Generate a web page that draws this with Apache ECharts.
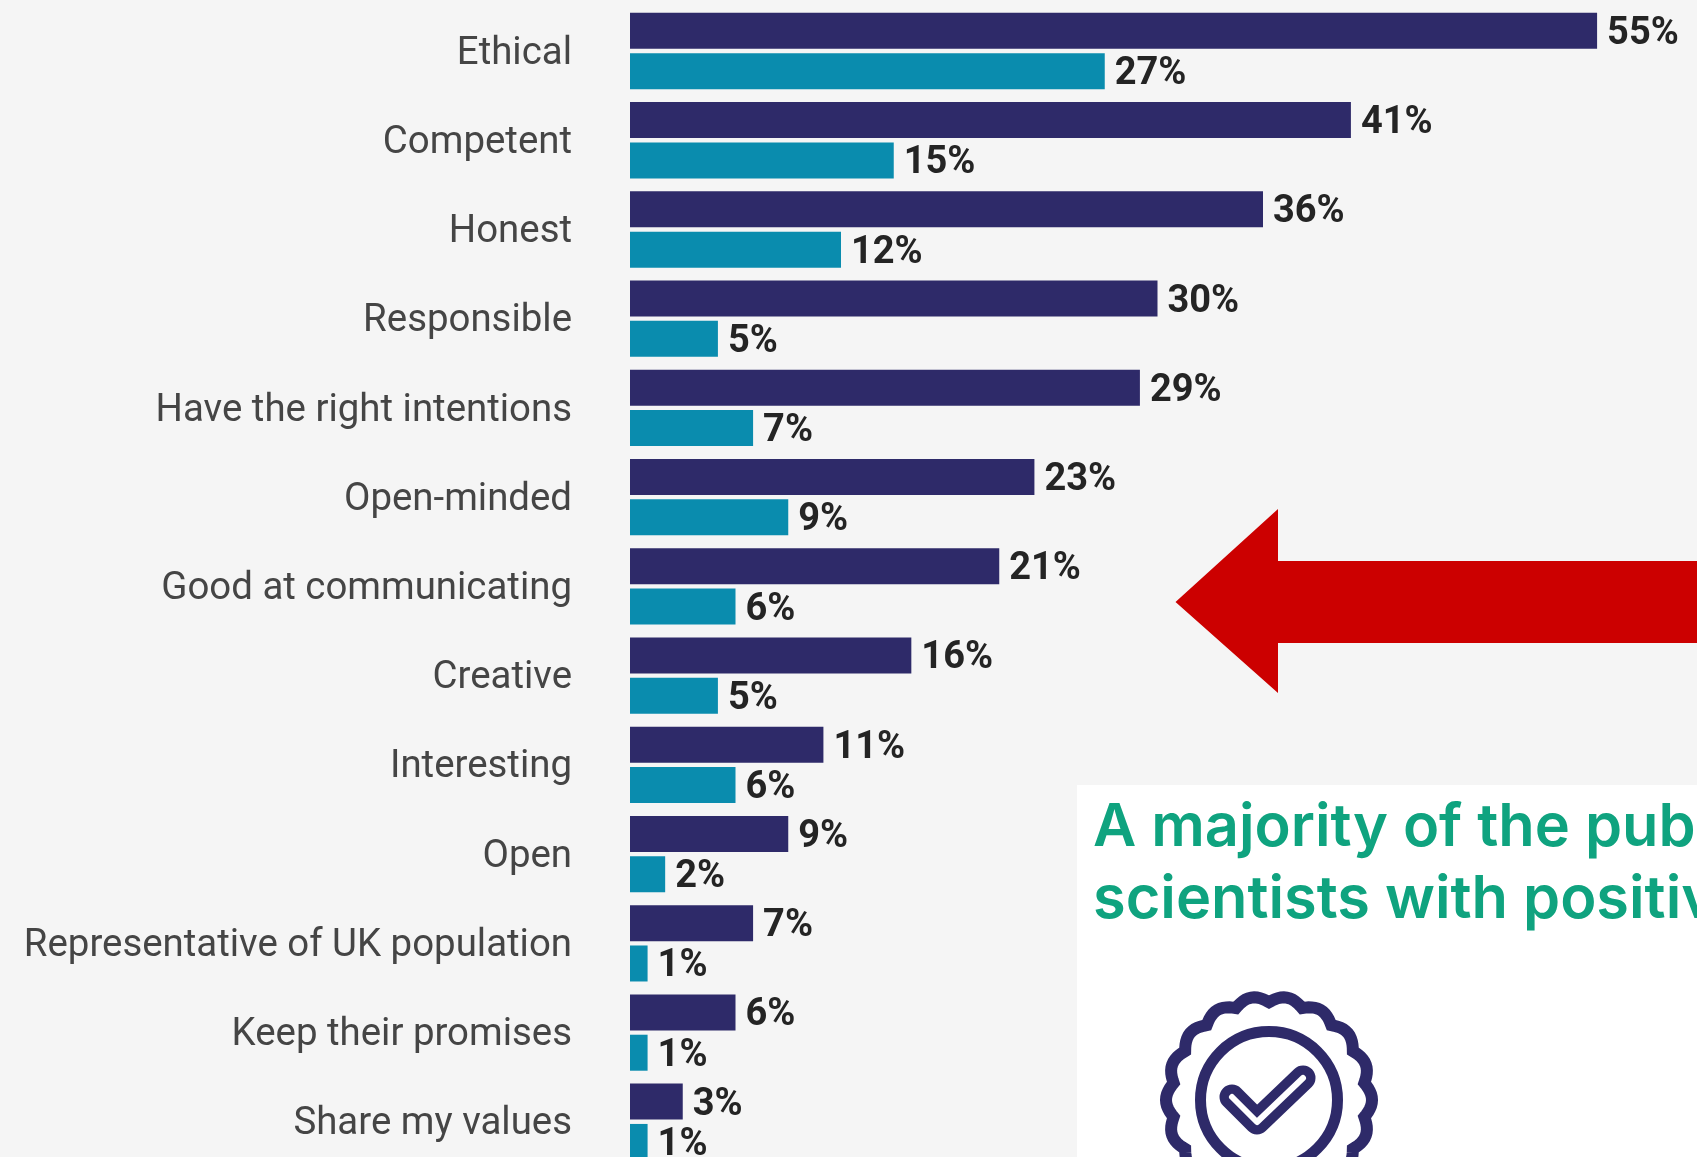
<!DOCTYPE html>
<html>
<head>
<meta charset="utf-8">
<style>
  html, body { margin: 0; padding: 0; background: #f5f5f5; overflow: hidden; }
  #chart { width: 1697px; height: 1157px; }
</style>
<script src="https://cdn.jsdelivr.net/npm/echarts@6/dist/echarts.min.js"></script>
</head>
<body>
<div id="chart"></div>
<script>
// Traits attributed to scientists, share of respondents (%)
const categories = [
  'Ethical', 'Competent', 'Honest', 'Responsible', 'Have the right intentions',
  'Open-minded', 'Good at communicating', 'Creative', 'Interesting', 'Open',
  'Representative of UK population', 'Keep their promises', 'Share my values'
];
const navyValues = [55, 41, 36, 30, 29, 23, 21, 16, 11, 9, 7, 6, 3];
const tealValues = [27, 15, 12, 5, 7, 9, 6, 5, 6, 2, 1, 1, 1];
const headlineLines = ['A majority of the pub', 'scientists with positiv'];

const NAVY = '#2e2a69';
const TEAL = '#0a8cae';
const GREEN = '#0fa37f';

// Scalloped outline of the rosette icon
function rosettePoints(cx, cy, rx, ry, bumps, depth) {
  const pts = [];
  const steps = bumps * 12;
  for (let i = 0; i < steps; i++) {
    const a = (i / steps) * Math.PI * 2;
    const k = 1 - depth * (1 - Math.abs(Math.sin(a * bumps / 2)));
    pts.push([cx + rx * k * Math.sin(a), cy - ry * k * Math.cos(a)]);
  }
  return pts;
}

const barLabel = {
  show: true,
  position: 'right',
  distance: 10,
  offset: [0, 3.5],
  formatter: '{c}%',
  fontFamily: 'Roboto',
  fontWeight: 'bold',
  fontSize: 38,
  color: '#242424'
};

const CHECK_POINTS = [[1232, 1097], [1257, 1122], [1303, 1078]];

const chart = echarts.init(document.getElementById('chart'), null, { renderer: 'canvas' });
chart.setOption({
  animation: false,
  backgroundColor: '#f5f5f5',
  // The last row runs past the bottom of the canvas, so the grid is not fitted to it
  grid: { left: 630, top: 6.4, width: 1055, height: 1160, outerBoundsMode: 'none' },
  xAxis: { type: 'value', min: 0, max: 60, show: false },
  yAxis: {
    type: 'category',
    inverse: true,
    data: categories,
    axisLine: { show: false },
    axisTick: { show: false },
    axisLabel: {
      margin: 58,
      // A short line box hung from the tick sits the text just below the band centre
      verticalAlign: 'top',
      lineHeight: 6,
      fontFamily: 'Roboto',
      fontSize: 38.4,
      color: '#454545',
      interval: 0
    }
  },
  series: [
    { type: 'bar', data: navyValues, barWidth: 36, barGap: '12%', itemStyle: { color: NAVY }, label: barLabel },
    { type: 'bar', data: tealValues, barWidth: 36, itemStyle: { color: TEAL }, label: barLabel }
  ],
  graphic: [
    // Red call-out arrow running off the right edge
    {
      type: 'polygon', z: 10,
      shape: { points: [[1175.5, 602], [1278, 509], [1278, 561], [1697, 561], [1697, 643], [1278, 643], [1278, 693]] },
      style: { fill: '#cc0000' }
    },
    // White panel with the headline and rosette icon
    {
      type: 'rect', z: 10,
      shape: { x: 1077, y: 785, width: 620, height: 372 },
      style: { fill: '#ffffff' }
    },
    {
      type: 'text', z: 11, x: 1093, y: 858,
      style: { text: headlineLines[0], fontFamily: 'Inter', fontWeight: 600, fontSize: 59.5, fill: GREEN, textVerticalAlign: 'bottom' }
    },
    {
      type: 'text', z: 11, x: 1093, y: 930,
      style: { text: headlineLines[1], fontFamily: 'Inter', fontWeight: 600, fontSize: 59.5, fill: GREEN, textVerticalAlign: 'bottom' }
    },
    {
      type: 'polygon', z: 11,
      shape: { points: rosettePoints(1269, 1100, 103, 104, 18, 0.06) },
      style: { fill: 'none', stroke: NAVY, lineWidth: 12 }
    },
    {
      type: 'ellipse', z: 11,
      shape: { cx: 1269, cy: 1100, rx: 68.5, ry: 68.5 },
      style: { fill: 'none', stroke: NAVY, lineWidth: 11 }
    },
    {
      type: 'polyline', z: 11,
      shape: { points: CHECK_POINTS },
      style: { fill: 'none', stroke: NAVY, lineWidth: 25, lineCap: 'round', lineJoin: 'round' }
    },
    {
      type: 'polyline', z: 12,
      shape: { points: CHECK_POINTS },
      style: { fill: 'none', stroke: '#ffffff', lineWidth: 6, lineCap: 'round', lineJoin: 'round' }
    }
  ]
});
</script>
</body>
</html>
